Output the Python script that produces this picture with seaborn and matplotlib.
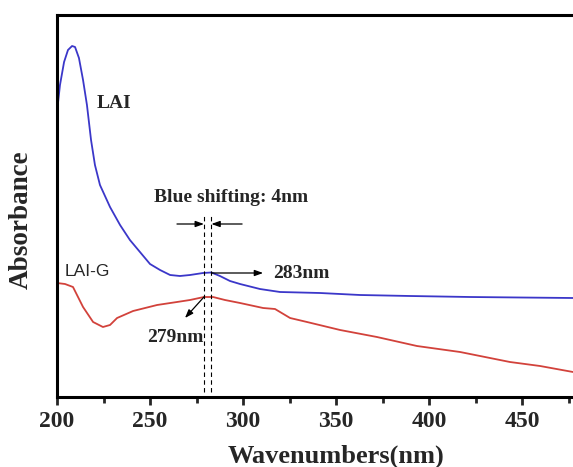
import numpy as np
import pandas as pd
import matplotlib
matplotlib.use("Agg")
import matplotlib.pyplot as plt
import seaborn as sns

# ---- data ----
lai_x = [200.0, 201.6, 203.8, 205.9, 208.1, 209.7, 211.8, 214.0, 216.1, 218.3, 220.4,
         223.1, 228.5, 233.9, 239.2, 244.6, 250.0, 255.4, 260.8, 266.1, 271.5, 278.5,
         283.0, 287.6, 293.0, 298.4, 309.1, 319.9, 341.4, 362.9, 389.8, 422.0, 448.9, 477.4]
lai_y = [2.85, 3.12, 3.35, 3.47, 3.51, 3.50, 3.39, 3.17, 2.92, 2.57, 2.32,
         2.12, 1.90, 1.72, 1.57, 1.45, 1.33, 1.27, 1.22, 1.21, 1.22, 1.24,
         1.245, 1.21, 1.16, 1.13, 1.08, 1.05, 1.04, 1.02, 1.01, 1.00, 0.995, 0.99]

laig_x = [200.0, 204.3, 208.6, 214.0, 219.4, 224.7, 228.5, 232.3, 240.9, 253.8, 264.5,
          271.5, 279.0, 283.9, 290.3, 298.4, 310.8, 317.2, 325.3, 334.4, 352.2, 372.0,
          393.5, 416.7, 443.5, 459.7, 477.4]
laig_y = [1.14, 1.13, 1.10, 0.90, 0.75, 0.70, 0.72, 0.79, 0.86, 0.92, 0.95,
          0.97, 1.00, 1.00, 0.97, 0.94, 0.89, 0.88, 0.79, 0.75, 0.67, 0.60,
          0.51, 0.45, 0.35, 0.31, 0.25]

peak_lai = 283
peak_laig = 279
shift_label = "Blue shifting: 4nm"
xticks = [200, 250, 300, 350, 400, 450]

df = pd.concat([
    pd.DataFrame({"wl": lai_x, "abs": lai_y, "sample": "LAI"}),
    pd.DataFrame({"wl": laig_x, "abs": laig_y, "sample": "LAI-G"}),
])

sns.set_style("ticks")
plt.rcParams["font.family"] = ["Liberation Serif", "DejaVu Serif"]

fig = plt.figure(figsize=(5.73, 4.67), dpi=100)
ax = fig.add_axes([57/573, 70/467, (573-57)/573, 382/467])

sns.lineplot(data=df, x="wl", y="abs", hue="sample",
             palette={"LAI": "#3b37c9", "LAI-G": "#d2423b"},
             linewidth=1.3, legend=False, ax=ax, sort=False)

ax.set_xlim(200, 477.4)
ax.set_ylim(0, 3.82)

for s in ["left", "bottom", "top"]:
    ax.spines[s].set_linewidth(2.2)
    ax.spines[s].set_color("black")
ax.spines["right"].set_visible(False)

ax.set_xticks(xticks)
ax.set_xticks([225, 275, 325, 375, 425, 475], minor=True)
ax.set_yticks([])
ax.tick_params(axis="x", which="major", direction="out", length=6, width=2, pad=4)
ax.tick_params(axis="x", which="minor", direction="out", length=4, width=2)
for lab in ax.get_xticklabels():
    lab.set_fontweight("bold")
    lab.set_fontsize(17)

ax.set_xlabel("Wavenumbers(nm)", fontsize=19, fontweight="bold")
ax.xaxis.set_label_coords(0.54, -0.125)
ax.set_ylabel("Absorbance", fontsize=19.5, fontweight="bold")
ax.yaxis.set_label_coords(-0.046, 0.463)

# dashed guide lines
for xv in [peak_laig, peak_lai]:
    ax.plot([xv, xv], [0.05, 1.82], color="black", lw=0.8, ls=(0, (4, 3)))

arrow = dict(arrowstyle="-|>,head_length=0.5,head_width=0.18", color="black", lw=0.9,
             shrinkA=0, shrinkB=0)
ax.annotate("", xy=(peak_laig, 1.73), xytext=(264.5, 1.73), arrowprops=arrow)
ax.annotate("", xy=(peak_lai, 1.73), xytext=(299.5, 1.73), arrowprops=arrow)
ax.annotate("", xy=(310.8, 1.24), xytext=(peak_lai, 1.24), arrowprops=arrow)
ax.annotate("", xy=(268.8, 0.79), xytext=(peak_laig, 1.00), arrowprops=arrow)

ax.text(293.5, 1.99, shift_label, ha="center", va="center", fontsize=14, fontweight="bold")
ax.text(316, 1.23, f"{peak_lai}nm", ha="left", va="center", fontsize=14, fontweight="bold")
ax.text(263.4, 0.59, f"{peak_laig}nm", ha="center", va="center", fontsize=14, fontweight="bold")
ax.text(230.6, 2.94, "LAI", ha="center", va="center", fontsize=14, fontweight="bold")
ax.text(216.1, 1.25, "LAI-G", ha="center", va="center", fontsize=12.5,
        family=["Liberation Sans", "DejaVu Sans"])

fig.savefig("out.png", dpi=100)
